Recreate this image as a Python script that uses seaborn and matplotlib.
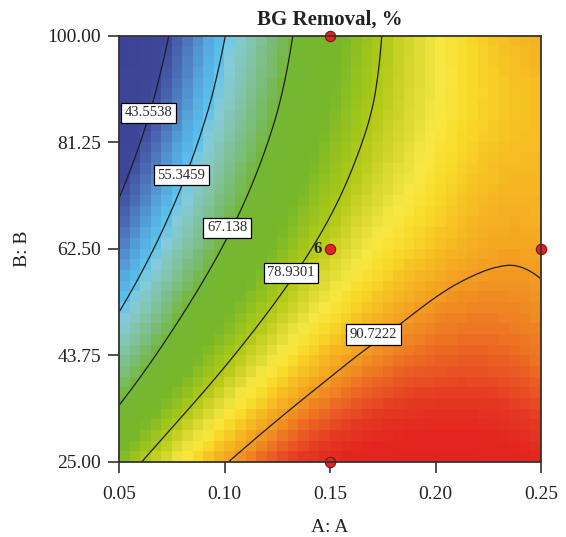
import numpy as np
import pandas as pd
import matplotlib
matplotlib.use("Agg")
import matplotlib.pyplot as plt
import matplotlib.tri as mtri
import seaborn as sns
from matplotlib.colors import LinearSegmentedColormap, Normalize

# ---- data ----
a_values = [0.05, 0.075, 0.10, 0.125, 0.15, 0.175, 0.20, 0.225, 0.25]
b_values = [25.0, 34.375, 43.75, 53.125, 62.5, 71.875, 81.25, 90.625, 100.0]
# BG removal (%) estimated on the grid; rows follow b_values (bottom to top)
removal = [
    [75.29, 83.54, 90.29, 95.54, 99.29, 101.54, 102.29, 101.54, 99.29],
    [67.62, 76.40, 83.67, 89.45, 93.72, 96.50, 97.77, 97.55, 95.82],
    [60.59, 69.89, 77.69, 83.99, 88.79, 92.09, 93.89, 94.19, 92.99],
    [54.20, 64.02, 72.35, 79.17, 84.50, 88.32, 91.00, 92.00, 91.40],
    [48.44, 58.79, 67.64, 74.99, 80.84, 85.19, 88.04, 90.00, 89.90],
    [43.32, 54.20, 63.57, 71.45, 77.82, 82.70, 86.07, 88.60, 88.90],
    [38.84, 50.24, 60.14, 68.54, 75.44, 80.84, 84.74, 87.50, 88.30],
    [35.00, 46.92, 57.35, 66.27, 73.70, 79.62, 84.05, 86.97, 88.40],
    [31.79, 44.24, 55.19, 64.64, 72.59, 79.04, 84.00, 87.44, 89.39],
]
contour_levels = [43.5538, 55.3459, 67.138, 78.9301, 90.7222]
label_a = [0.064, 0.0796, 0.1012, 0.1315, 0.1706]
label_b = [86.5, 75.5, 66.2, 58.3, 47.45]
design_a = [0.15, 0.15, 0.25, 0.15]
design_b = [100.0, 62.5, 62.5, 25.0]
design_count = ["", "6", "", ""]
x_ticks = [0.05, 0.10, 0.15, 0.20, 0.25]
y_ticks = [25.00, 43.75, 62.50, 81.25, 100.00]
title = "BG Removal, %"
x_label = "A: A"
y_label = "B: B"

# ---- style ----
sns.set_style("ticks")
plt.rcParams['font.family'] = ['Liberation Serif', 'DejaVu Serif']
plt.rcParams['axes.edgecolor'] = '#333333'

cmap = LinearSegmentedColormap.from_list("de", [
    (0.00, "#3c4394"), (0.16, "#3f479a"), (0.21, "#4a68b2"), (0.25, "#5088c8"),
    (0.29, "#56aade"), (0.33, "#5ac2ee"), (0.36, "#86ccda"), (0.41, "#82c4a8"),
    (0.46, "#7abc70"), (0.50, "#74b734"), (0.60, "#78b82a"), (0.65, "#a0c61c"),
    (0.68, "#b8cc18"), (0.72, "#e0dc34"), (0.745, "#f8e844"), (0.77, "#f9dc2a"),
    (0.80, "#f6be22"), (0.83, "#f4a222"), (0.86, "#ef8022"), (0.89, "#ea5a24"),
    (0.92, "#e53a22"), (0.96, "#e32620"), (1.00, "#e32320"),
])
step = contour_levels[1] - contour_levels[0]
vmin = contour_levels[0] - step
vmax = contour_levels[-1] + step
norm = Normalize(vmin=vmin, vmax=vmax)

Z = np.array(removal)
nb, na = Z.shape
ii, jj = np.meshgrid(np.arange(na), np.arange(nb))
tri = mtri.Triangulation(ii.ravel().astype(float), jj.ravel().astype(float))
interp = mtri.CubicTriInterpolator(tri, Z.ravel())
tri_r, z_r = mtri.UniformTriRefiner(tri).refine_field(Z.ravel(), subdiv=3, triinterpolator=interp)
da = a_values[1] - a_values[0]
db = b_values[1] - b_values[0]
tri_d = mtri.Triangulation(a_values[0] + tri_r.x * da, b_values[0] + tri_r.y * db, tri_r.triangles)

# blocky raster like the Design-Expert rendering (library interpolator evaluated per cell)
n_cells = 40
centres = (np.arange(n_cells) + 0.5) / n_cells * (na - 1)
ci, cj = np.meshgrid(centres, (np.arange(n_cells) + 0.5) / n_cells * (nb - 1))
raster = np.asarray(interp(ci, cj))

fig = plt.figure(figsize=(5.66, 5.37), dpi=100)
ax = fig.add_axes([119/566, 1-462/537, 422/566, 426/537])

ax.imshow(raster, origin='lower', cmap=cmap, norm=norm, interpolation='nearest',
          extent=[a_values[0], a_values[-1], b_values[0], b_values[-1]], aspect='auto', zorder=1)
ax.tricontour(tri_d, z_r, levels=contour_levels, colors='#1e1e1e', linewidths=0.9, zorder=3)

for lv, la, lb in zip(contour_levels, label_a, label_b):
    ax.text(la, lb, f"{lv:g}", ha='center', va='center', fontsize=10.5, zorder=5,
            bbox=dict(boxstyle='square,pad=0.25', facecolor='white', edgecolor='black', linewidth=0.9))

df = pd.DataFrame({"A": design_a, "B": design_b, "n": design_count})
sns.scatterplot(data=df, x="A", y="B", ax=ax, color="#e32320", edgecolor="#7a1010",
                linewidth=0.8, s=55, zorder=6, clip_on=False, legend=False)
for xa, yb, n in zip(design_a, design_b, design_count):
    if n:
        ax.annotate(n, (xa, yb), xytext=(-9, 0), textcoords='offset points',
                    ha='center', va='center', fontsize=12, fontweight='bold', color='#222222')

ax.set_xlim(a_values[0], a_values[-1])
ax.set_ylim(b_values[0], b_values[-1])
ax.set_xticks(x_ticks)
ax.set_xticklabels([f"{v:.2f}" for v in x_ticks])
ax.set_yticks(y_ticks)
ax.set_yticklabels([f"{v:.2f}" for v in y_ticks])
ax.tick_params(axis='both', direction='out', length=8, width=1.2, color='#333333',
               labelsize=14, labelcolor='#222222')
ax.tick_params(axis='x', pad=9)
ax.tick_params(axis='y', pad=5)
for sp in ax.spines.values():
    sp.set_linewidth(1.3)
    sp.set_visible(True)
    sp.set_zorder(7)
ax.set_title(title, fontsize=15, fontweight='bold', pad=8, color='#222222')
ax.set_xlabel(x_label, fontsize=14, labelpad=12, color='#222222')
ax.set_ylabel(y_label, fontsize=14, labelpad=12, color='#222222')

fig.savefig("out.png", dpi=100)
